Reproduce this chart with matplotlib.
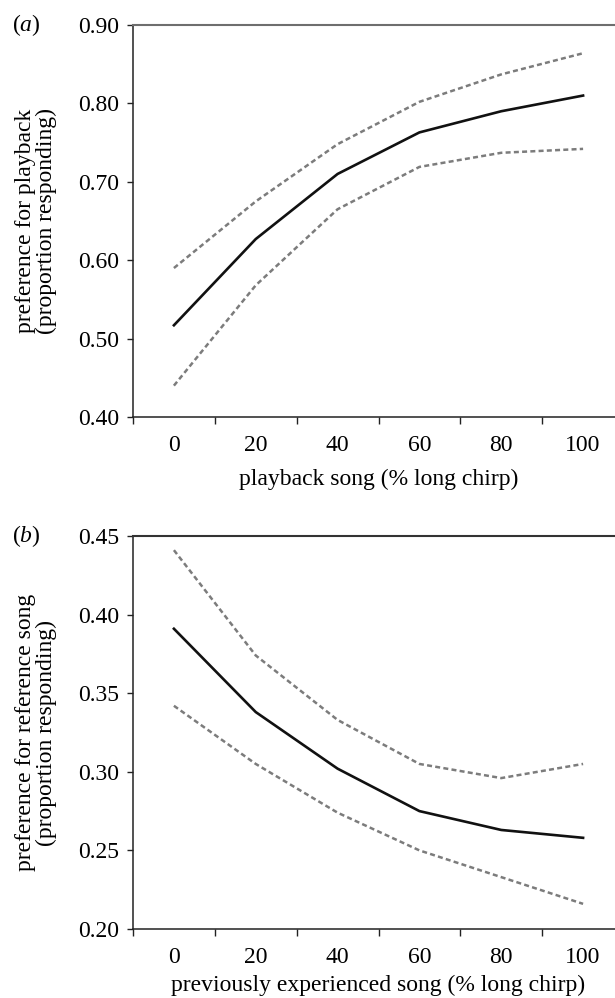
import numpy as np
import matplotlib
matplotlib.use('Agg')
import matplotlib.pyplot as plt
from matplotlib.ticker import FixedLocator, NullFormatter, FormatStrFormatter

plt.rcParams['font.family'] = 'Liberation Serif'
plt.rcParams['mathtext.fontset'] = 'custom'
plt.rcParams['mathtext.it'] = 'Liberation Serif:italic'
plt.rcParams['mathtext.rm'] = 'Liberation Serif'

kategorie = ['0', '20', '40', '60', '80', '100']

# panel (a)
a_srednia = [0.517, 0.627, 0.710, 0.763, 0.790, 0.810]
a_gorna = [0.590, 0.675, 0.748, 0.802, 0.837, 0.864]
a_dolna = [0.440, 0.568, 0.665, 0.719, 0.737, 0.742]

# panel (b)
b_srednia = [0.391, 0.338, 0.302, 0.275, 0.263, 0.258]
b_gorna = [0.441, 0.374, 0.333, 0.305, 0.296, 0.305]
b_dolna = [0.342, 0.305, 0.274, 0.250, 0.233, 0.216]

fig = plt.figure(figsize=(6.15, 9.98), dpi=100)

W, H = 615, 998
lewo = 133 / W
szer = (624 - 133) / W
ax_a = fig.add_axes([lewo, 1 - 417 / H, szer, 392 / H])
ax_b = fig.add_axes([lewo, 1 - 929 / H, szer, 393 / H])

x = np.arange(len(kategorie))


def rysuj(ax, srednia, gorna, dolna, ylim, yticks, xlabel, ylabel, kolor_gora, pad_x):
    ax.plot(x, gorna, color='#7c7c7c', lw=1.8, dashes=(2, 1.3))
    ax.plot(x, dolna, color='#7c7c7c', lw=1.8, dashes=(2, 1.3))
    ax.plot(x, srednia, color='#111111', lw=1.9)

    ax.set_xlim(-0.5, 5.5)
    ax.set_ylim(*ylim)
    ax.set_yticks(yticks)
    ax.yaxis.set_major_formatter(FormatStrFormatter('%.2f'))

    ax.xaxis.set_major_locator(FixedLocator(np.arange(-0.5, 5.6, 1)))
    ax.xaxis.set_major_formatter(NullFormatter())
    ax.xaxis.set_minor_locator(FixedLocator(x))
    ax.set_xticklabels(kategorie, minor=True)

    ax.tick_params(axis='x', which='major', direction='out', length=5, width=1, color='#222222')
    ax.tick_params(axis='x', which='minor', length=0, pad=13, labelsize=17)
    ax.tick_params(axis='y', direction='out', length=4.5, width=1, color='#222222',
                   pad=5.5, labelsize=17)

    ax.spines['right'].set_visible(False)
    ax.spines['top'].set_color(kolor_gora)
    ax.spines['top'].set_linewidth(1.5)
    for s in ['left', 'bottom']:
        ax.spines[s].set_color('#222222')
        ax.spines[s].set_linewidth(1.1)

    ax.set_xlabel(xlabel, fontsize=17, labelpad=pad_x)
    ax.set_ylabel(ylabel, fontsize=17, va='center', linespacing=1.0)
    ax.yaxis.set_label_coords(-0.198, 0.5)


rysuj(ax_a, a_srednia, a_gorna, a_dolna, (0.40, 0.90),
      [0.40, 0.50, 0.60, 0.70, 0.80, 0.90],
      'playback song (% long chirp)',
      'preference for playback\n(proportion responding)', '#6e6e6e', 9)

rysuj(ax_b, b_srednia, b_gorna, b_dolna, (0.20, 0.45),
      [0.20, 0.25, 0.30, 0.35, 0.40, 0.45],
      'previously experienced song (% long chirp)',
      'preference for reference song\n(proportion responding)', '#333333', 5)

fig.text(12 / W, 1 - 25 / H, r'($\it{a}$)', fontsize=17, ha='left', va='center')
fig.text(12 / W, 1 - 536 / H, r'($\it{b}$)', fontsize=17, ha='left', va='center')

fig.savefig('out.png', dpi=100)
plt.close(fig)
